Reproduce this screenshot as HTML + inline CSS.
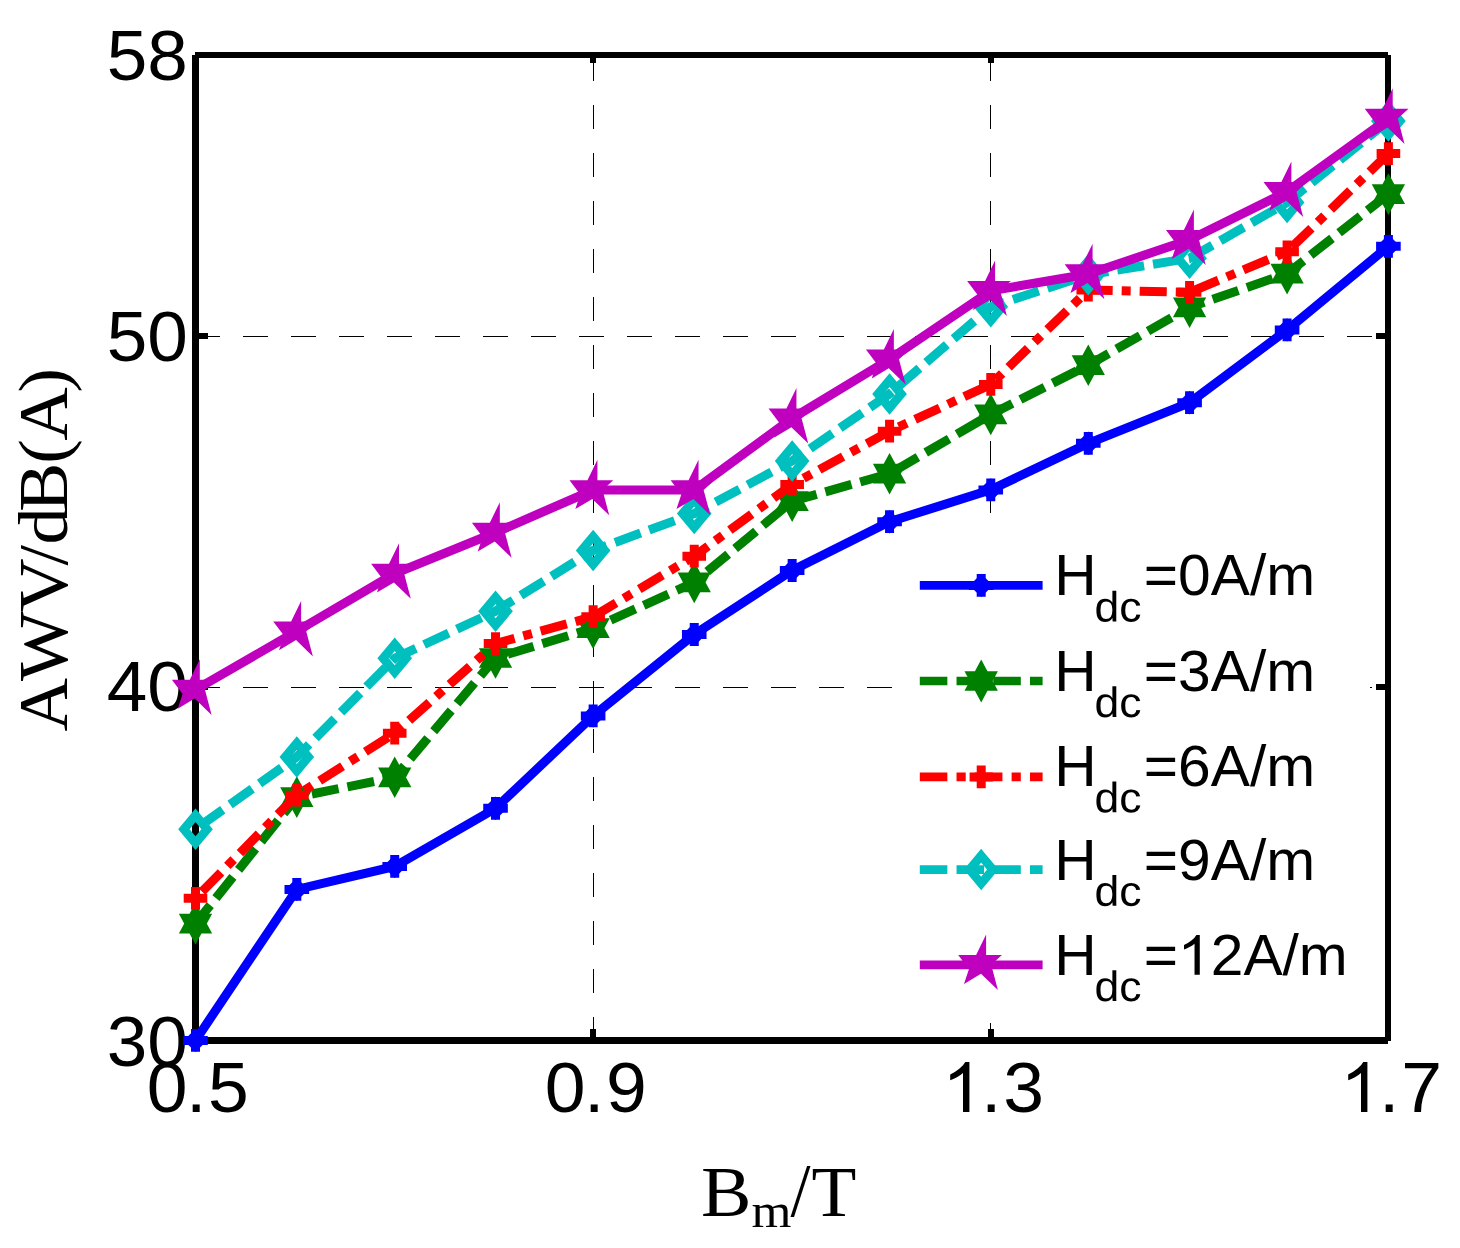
<!DOCTYPE html>
<html><head><meta charset="utf-8"><title>AWV vs Bm</title>
<style>html,body{margin:0;padding:0;background:#fff}svg{display:block;will-change:transform}text{fill:#000}</style>
</head><body>
<svg width="1460" height="1248" viewBox="0 0 1460 1248">
<rect width="1460" height="1248" fill="#fff"/>
<g stroke="#000" stroke-width="1" fill="none" shape-rendering="crispEdges" stroke-dasharray="24.5 23.5">
<path d="M195 336.5H1388.4" stroke-dasharray="25 23"/>
<path d="M195 687.5H1388.4" stroke-dasharray="25 23"/>
<path d="M593.5 56.5V1040.4"/>
<path d="M990.5 56.5V1040.4"/>
</g>
<rect x="908" y="527" width="462" height="496" fill="#fff"/>
<g fill="#000" shape-rendering="crispEdges">
<rect x="195" y="52" width="1193" height="6"/>
<rect x="195" y="1037" width="1193" height="7"/>
<rect x="192" y="55" width="7" height="986"/>
<rect x="1385" y="55" width="6" height="986"/>
<rect x="199" y="333" width="9" height="6"/>
<rect x="1376" y="333" width="9" height="6"/>
<rect x="199" y="684" width="9" height="6"/>
<rect x="1376" y="684" width="9" height="6"/>
<rect x="590" y="58" width="6" height="5"/>
<rect x="590" y="1029" width="6" height="8"/>
<rect x="987.5" y="58" width="6" height="5"/>
<rect x="987.5" y="1029" width="6" height="8"/>
</g>
<text transform="translate(187.8 80.3) scale(1.03 1)" font-family="Liberation Sans, sans-serif" font-size="70.8" text-anchor="end">58</text>
<text transform="translate(187.8 361.4) scale(1.03 1)" font-family="Liberation Sans, sans-serif" font-size="70.8" text-anchor="end">50</text>
<text transform="translate(187.8 711.3) scale(1.03 1)" font-family="Liberation Sans, sans-serif" font-size="70.8" text-anchor="end">40</text>
<text transform="translate(187.8 1066.1) scale(1.03 1)" font-family="Liberation Sans, sans-serif" font-size="70.8" text-anchor="end">30</text>
<text transform="translate(146.86 1112.3) scale(1.03 1)" font-family="Liberation Sans, sans-serif" font-size="71.2" text-anchor="start">0</text>
<text transform="translate(186.01 1112.3) scale(1.03 1)" font-family="Liberation Sans, sans-serif" font-size="71.2" text-anchor="start">.</text>
<text transform="translate(208.04 1112.3) scale(1.03 1)" font-family="Liberation Sans, sans-serif" font-size="71.2" text-anchor="start">5</text>
<text transform="translate(544.81 1112.3) scale(1.03 1)" font-family="Liberation Sans, sans-serif" font-size="71.2" text-anchor="start">0</text>
<text transform="translate(584.11 1112.3) scale(1.03 1)" font-family="Liberation Sans, sans-serif" font-size="71.2" text-anchor="start">.</text>
<text transform="translate(606.01 1112.3) scale(1.03 1)" font-family="Liberation Sans, sans-serif" font-size="71.2" text-anchor="start">9</text>
<text transform="translate(980.96 1112.3) scale(1.03 1)" font-family="Liberation Sans, sans-serif" font-size="71.2" text-anchor="start">.</text>
<text transform="translate(1003.23 1112.3) scale(1.03 1)" font-family="Liberation Sans, sans-serif" font-size="71.2" text-anchor="start">3</text>
<text transform="translate(1378.96 1112.3) scale(1.03 1)" font-family="Liberation Sans, sans-serif" font-size="71.2" text-anchor="start">.</text>
<text transform="translate(1401.18 1112.3) scale(1.03 1)" font-family="Liberation Sans, sans-serif" font-size="71.2" text-anchor="start">7</text>
<path transform="translate(942.27 1111.9) scale(0.03556 -0.03397)" d="M763 0L583 0L583 1147Q518 1085 412.5 1023Q307 961 223 930L223 1104Q374 1175 487 1276Q600 1377 647 1472L763 1472Z" fill="#000"/>
<path transform="translate(1340.27 1111.9) scale(0.03556 -0.03397)" d="M763 0L583 0L583 1147Q518 1085 412.5 1023Q307 961 223 930L223 1104Q374 1175 487 1276Q600 1377 647 1472L763 1472Z" fill="#000"/>
<polyline points="195.5,1040.4 296.81,889.4 394.72,866.4 495.53,808.3 593.13,715.9 694.24,634.5 792.15,570.5 889.56,521.7 990.77,489.9 1088.28,443.3 1189.58,402.7 1287.09,329.9 1388.4,246.3" fill="none" stroke="#0000ff" stroke-width="9.05" stroke-linejoin="miter"/>
<path d="M183.2 1040.4H207.8M195.5 1029V1051.8" stroke="#0000ff" stroke-width="9" fill="none"/><path d="M195.5 1028.7L207.2 1040.4L195.5 1052.1L183.8 1040.4Z" fill="#0000ff"/>
<path d="M284.51 889.4H309.11M296.81 878V900.8" stroke="#0000ff" stroke-width="9" fill="none"/><path d="M296.81 877.7L308.51 889.4L296.81 901.1L285.11 889.4Z" fill="#0000ff"/>
<path d="M382.42 866.4H407.02M394.72 855V877.8" stroke="#0000ff" stroke-width="9" fill="none"/><path d="M394.72 854.7L406.42 866.4L394.72 878.1L383.02 866.4Z" fill="#0000ff"/>
<path d="M483.23 808.3H507.83M495.53 796.9V819.7" stroke="#0000ff" stroke-width="9" fill="none"/><path d="M495.53 796.6L507.23 808.3L495.53 820L483.83 808.3Z" fill="#0000ff"/>
<path d="M580.83 715.9H605.43M593.13 704.5V727.3" stroke="#0000ff" stroke-width="9" fill="none"/><path d="M593.13 704.2L604.83 715.9L593.13 727.6L581.43 715.9Z" fill="#0000ff"/>
<path d="M681.94 634.5H706.54M694.24 623.1V645.9" stroke="#0000ff" stroke-width="9" fill="none"/><path d="M694.24 622.8L705.94 634.5L694.24 646.2L682.54 634.5Z" fill="#0000ff"/>
<path d="M779.85 570.5H804.45M792.15 559.1V581.9" stroke="#0000ff" stroke-width="9" fill="none"/><path d="M792.15 558.8L803.85 570.5L792.15 582.2L780.45 570.5Z" fill="#0000ff"/>
<path d="M877.26 521.7H901.86M889.56 510.3V533.1" stroke="#0000ff" stroke-width="9" fill="none"/><path d="M889.56 510L901.26 521.7L889.56 533.4L877.86 521.7Z" fill="#0000ff"/>
<path d="M978.47 489.9H1003.07M990.77 478.5V501.3" stroke="#0000ff" stroke-width="9" fill="none"/><path d="M990.77 478.2L1002.47 489.9L990.77 501.6L979.07 489.9Z" fill="#0000ff"/>
<path d="M1075.98 443.3H1100.58M1088.28 431.9V454.7" stroke="#0000ff" stroke-width="9" fill="none"/><path d="M1088.28 431.6L1099.98 443.3L1088.28 455L1076.58 443.3Z" fill="#0000ff"/>
<path d="M1177.28 402.7H1201.88M1189.58 391.3V414.1" stroke="#0000ff" stroke-width="9" fill="none"/><path d="M1189.58 391L1201.28 402.7L1189.58 414.4L1177.88 402.7Z" fill="#0000ff"/>
<path d="M1274.79 329.9H1299.39M1287.09 318.5V341.3" stroke="#0000ff" stroke-width="9" fill="none"/><path d="M1287.09 318.2L1298.79 329.9L1287.09 341.6L1275.39 329.9Z" fill="#0000ff"/>
<path d="M1376.1 246.3H1400.7M1388.4 234.9V257.7" stroke="#0000ff" stroke-width="9" fill="none"/><path d="M1388.4 234.6L1400.1 246.3L1388.4 258L1376.7 246.3Z" fill="#0000ff"/>
<polyline points="195.5,923.6 296.81,797.1 394.72,777.3 495.53,658 593.13,628.1 694.24,582.4 792.15,501.2 889.56,473.7 990.77,414.4 1088.28,365.2 1189.58,307.3 1287.09,273.6 1388.4,194.1" fill="none" stroke="#008000" stroke-width="9.05" stroke-linejoin="miter" stroke-dasharray="27.15 9.05" stroke-dashoffset="3.5"/>
<path d="M195.5 902.8L212.15 933.45L178.85 933.45ZM195.5 944.4L178.85 913.75L212.15 913.75Z" fill="#008000"/>
<path d="M296.81 776.3L313.46 806.95L280.16 806.95ZM296.81 817.9L280.16 787.25L313.46 787.25Z" fill="#008000"/>
<path d="M394.72 756.5L411.37 787.15L378.07 787.15ZM394.72 798.1L378.07 767.45L411.37 767.45Z" fill="#008000"/>
<path d="M495.53 637.2L512.18 667.85L478.88 667.85ZM495.53 678.8L478.88 648.15L512.18 648.15Z" fill="#008000"/>
<path d="M593.13 607.3L609.78 637.95L576.48 637.95ZM593.13 648.9L576.48 618.25L609.78 618.25Z" fill="#008000"/>
<path d="M694.24 561.6L710.89 592.25L677.59 592.25ZM694.24 603.2L677.59 572.55L710.89 572.55Z" fill="#008000"/>
<path d="M792.15 480.4L808.8 511.05L775.5 511.05ZM792.15 522L775.5 491.35L808.8 491.35Z" fill="#008000"/>
<path d="M889.56 452.9L906.21 483.55L872.91 483.55ZM889.56 494.5L872.91 463.85L906.21 463.85Z" fill="#008000"/>
<path d="M990.77 393.6L1007.42 424.25L974.12 424.25ZM990.77 435.2L974.12 404.55L1007.42 404.55Z" fill="#008000"/>
<path d="M1088.28 344.4L1104.93 375.05L1071.62 375.05ZM1088.28 386L1071.62 355.35L1104.93 355.35Z" fill="#008000"/>
<path d="M1189.58 286.5L1206.23 317.15L1172.93 317.15ZM1189.58 328.1L1172.93 297.45L1206.23 297.45Z" fill="#008000"/>
<path d="M1287.09 252.8L1303.74 283.45L1270.44 283.45ZM1287.09 294.4L1270.44 263.75L1303.74 263.75Z" fill="#008000"/>
<path d="M1388.4 173.3L1405.05 203.95L1371.75 203.95ZM1388.4 214.9L1371.75 184.25L1405.05 184.25Z" fill="#008000"/>
<polyline points="195.5,898.3 296.81,795.2 394.72,733.2 495.53,643.6 593.13,616.7 694.24,556.2 792.15,484.5 889.56,431.2 990.77,384.4 1088.28,290 1189.58,292.3 1287.09,251.8 1388.4,153.6" fill="none" stroke="#ff0000" stroke-width="9.05" stroke-linejoin="miter" stroke-dasharray="27.1 9.0 9.0 9.0" stroke-dashoffset="-9.3"/>
<path d="M183.7 898.3H207.3M195.5 886.9V909.7" stroke="#ff0000" stroke-width="9" fill="none"/>
<path d="M285.01 795.2H308.61M296.81 783.8V806.6" stroke="#ff0000" stroke-width="9" fill="none"/>
<path d="M382.92 733.2H406.52M394.72 721.8V744.6" stroke="#ff0000" stroke-width="9" fill="none"/>
<path d="M483.73 643.6H507.33M495.53 632.2V655" stroke="#ff0000" stroke-width="9" fill="none"/>
<path d="M581.33 616.7H604.93M593.13 605.3V628.1" stroke="#ff0000" stroke-width="9" fill="none"/>
<path d="M682.44 556.2H706.04M694.24 544.8V567.6" stroke="#ff0000" stroke-width="9" fill="none"/>
<path d="M780.35 484.5H803.95M792.15 473.1V495.9" stroke="#ff0000" stroke-width="9" fill="none"/>
<path d="M877.76 431.2H901.36M889.56 419.8V442.6" stroke="#ff0000" stroke-width="9" fill="none"/>
<path d="M978.97 384.4H1002.57M990.77 373V395.8" stroke="#ff0000" stroke-width="9" fill="none"/>
<path d="M1076.48 290H1100.08M1088.28 278.6V301.4" stroke="#ff0000" stroke-width="9" fill="none"/>
<path d="M1177.78 292.3H1201.38M1189.58 280.9V303.7" stroke="#ff0000" stroke-width="9" fill="none"/>
<path d="M1275.29 251.8H1298.89M1287.09 240.4V263.2" stroke="#ff0000" stroke-width="9" fill="none"/>
<path d="M1376.6 153.6H1400.2M1388.4 142.2V165" stroke="#ff0000" stroke-width="9" fill="none"/>
<polyline points="195.5,829.2 296.81,756.9 394.72,658.2 495.53,611.2 593.13,550.4 694.24,513.5 792.15,461 889.56,394 990.77,306.8 1088.28,274.7 1189.58,258.3 1287.09,202.5 1388.4,120.9" fill="none" stroke="#00bfbf" stroke-width="9.05" stroke-linejoin="miter" stroke-dasharray="27.15 9.05" stroke-dashoffset="-6.3"/>
<path d="M195.5 815.3L207.1 829.2L195.5 843.1L183.9 829.2Z" fill="none" stroke="#00bfbf" stroke-width="8.8" stroke-linejoin="miter" stroke-miterlimit="10"/>
<path d="M296.81 743L308.41 756.9L296.81 770.8L285.21 756.9Z" fill="none" stroke="#00bfbf" stroke-width="8.8" stroke-linejoin="miter" stroke-miterlimit="10"/>
<path d="M394.72 644.3L406.32 658.2L394.72 672.1L383.12 658.2Z" fill="none" stroke="#00bfbf" stroke-width="8.8" stroke-linejoin="miter" stroke-miterlimit="10"/>
<path d="M495.53 597.3L507.13 611.2L495.53 625.1L483.93 611.2Z" fill="none" stroke="#00bfbf" stroke-width="8.8" stroke-linejoin="miter" stroke-miterlimit="10"/>
<path d="M593.13 536.5L604.73 550.4L593.13 564.3L581.53 550.4Z" fill="none" stroke="#00bfbf" stroke-width="8.8" stroke-linejoin="miter" stroke-miterlimit="10"/>
<path d="M694.24 499.6L705.84 513.5L694.24 527.4L682.64 513.5Z" fill="none" stroke="#00bfbf" stroke-width="8.8" stroke-linejoin="miter" stroke-miterlimit="10"/>
<path d="M792.15 447.1L803.75 461L792.15 474.9L780.55 461Z" fill="none" stroke="#00bfbf" stroke-width="8.8" stroke-linejoin="miter" stroke-miterlimit="10"/>
<path d="M889.56 380.1L901.16 394L889.56 407.9L877.96 394Z" fill="none" stroke="#00bfbf" stroke-width="8.8" stroke-linejoin="miter" stroke-miterlimit="10"/>
<path d="M990.77 292.9L1002.37 306.8L990.77 320.7L979.17 306.8Z" fill="none" stroke="#00bfbf" stroke-width="8.8" stroke-linejoin="miter" stroke-miterlimit="10"/>
<path d="M1088.28 260.8L1099.88 274.7L1088.28 288.6L1076.68 274.7Z" fill="none" stroke="#00bfbf" stroke-width="8.8" stroke-linejoin="miter" stroke-miterlimit="10"/>
<path d="M1189.58 244.4L1201.18 258.3L1189.58 272.2L1177.98 258.3Z" fill="none" stroke="#00bfbf" stroke-width="8.8" stroke-linejoin="miter" stroke-miterlimit="10"/>
<path d="M1287.09 188.6L1298.69 202.5L1287.09 216.4L1275.49 202.5Z" fill="none" stroke="#00bfbf" stroke-width="8.8" stroke-linejoin="miter" stroke-miterlimit="10"/>
<path d="M1388.4 107L1400 120.9L1388.4 134.8L1376.8 120.9Z" fill="none" stroke="#00bfbf" stroke-width="8.8" stroke-linejoin="miter" stroke-miterlimit="10"/>
<polyline points="195.5,689.6 296.81,631.2 394.72,573.5 495.53,532.5 593.13,490 694.24,490 792.15,418.3 889.56,359.3 990.77,290.8 1088.28,274 1189.58,239.8 1287.09,191.7 1388.4,118.6" fill="none" stroke="#bf00bf" stroke-width="9.05" stroke-linejoin="miter"/>
<path d="M199.8 659.3L199.8 679.8L215.6 679.8L204.9 689.6L211.6 714.9L194.7 698.5L177.7 708.7L182.6 694L171.9 679.8L189.8 679.8Z" fill="#bf00bf"/>
<path d="M301.11 600.9L301.11 621.4L316.91 621.4L306.21 631.2L312.91 656.5L296.01 640.1L279.01 650.3L283.91 635.6L273.21 621.4L291.11 621.4Z" fill="#bf00bf"/>
<path d="M399.02 543.2L399.02 563.7L414.82 563.7L404.12 573.5L410.82 598.8L393.92 582.4L376.92 592.6L381.82 577.9L371.12 563.7L389.02 563.7Z" fill="#bf00bf"/>
<path d="M499.82 502.2L499.82 522.7L515.62 522.7L504.93 532.5L511.62 557.8L494.73 541.4L477.73 551.6L482.62 536.9L471.93 522.7L489.82 522.7Z" fill="#bf00bf"/>
<path d="M597.43 459.7L597.43 480.2L613.23 480.2L602.53 490L609.23 515.3L592.33 498.9L575.33 509.1L580.23 494.4L569.53 480.2L587.43 480.2Z" fill="#bf00bf"/>
<path d="M698.54 459.7L698.54 480.2L714.34 480.2L703.64 490L710.34 515.3L693.44 498.9L676.44 509.1L681.34 494.4L670.64 480.2L688.54 480.2Z" fill="#bf00bf"/>
<path d="M796.45 388L796.45 408.5L812.25 408.5L801.55 418.3L808.25 443.6L791.35 427.2L774.35 437.4L779.25 422.7L768.55 408.5L786.45 408.5Z" fill="#bf00bf"/>
<path d="M893.86 329L893.86 349.5L909.66 349.5L898.96 359.3L905.66 384.6L888.76 368.2L871.76 378.4L876.66 363.7L865.96 349.5L883.86 349.5Z" fill="#bf00bf"/>
<path d="M995.07 260.5L995.07 281L1010.87 281L1000.17 290.8L1006.87 316.1L989.97 299.7L972.97 309.9L977.87 295.2L967.17 281L985.07 281Z" fill="#bf00bf"/>
<path d="M1092.58 243.7L1092.58 264.2L1108.38 264.2L1097.68 274L1104.38 299.3L1087.48 282.9L1070.48 293.1L1075.38 278.4L1064.68 264.2L1082.58 264.2Z" fill="#bf00bf"/>
<path d="M1193.88 209.5L1193.88 230L1209.68 230L1198.98 239.8L1205.68 265.1L1188.78 248.7L1171.78 258.9L1176.68 244.2L1165.98 230L1183.88 230Z" fill="#bf00bf"/>
<path d="M1291.39 161.4L1291.39 181.9L1307.19 181.9L1296.49 191.7L1303.19 217L1286.29 200.6L1269.29 210.8L1274.19 196.1L1263.49 181.9L1281.39 181.9Z" fill="#bf00bf"/>
<path d="M1392.7 88.3L1392.7 108.8L1408.5 108.8L1397.8 118.6L1404.5 143.9L1387.6 127.5L1370.6 137.7L1375.5 123L1364.8 108.8L1382.7 108.8Z" fill="#bf00bf"/>
<path d="M919.8 585.4H1042.6" stroke="#0000ff" stroke-width="8.7" fill="none"/>
<path d="M968.9 585.4H993.5M981.2 574V596.8" stroke="#0000ff" stroke-width="9" fill="none"/><path d="M981.2 573.7L992.9 585.4L981.2 597.1L969.5 585.4Z" fill="#0000ff"/>
<path d="M919.8 681H1042.6" stroke="#008000" stroke-width="8.7" fill="none" stroke-dasharray="27.55 9.18"/>
<path d="M981.2 659.6L997.9 690.7L964.5 690.7ZM981.2 702.4L964.5 671.3L997.9 671.3Z" fill="#008000"/>
<path d="M919.8 776.9H1042.6" stroke="#ff0000" stroke-width="8.7" fill="none" stroke-dasharray="27.55 9.18 9.18 9.18"/>
<path d="M969.6 776.9H992.8M981.2 765.5V788.3" stroke="#ff0000" stroke-width="9" fill="none"/>
<path d="M919.8 869.6H1042.6" stroke="#00bfbf" stroke-width="8.7" fill="none" stroke-dasharray="27.55 9.18"/>
<path d="M981.2 855.7L992.8 869.6L981.2 883.5L969.6 869.6Z" fill="none" stroke="#00bfbf" stroke-width="8.8" stroke-linejoin="miter" stroke-miterlimit="10"/>
<path d="M919.8 964.8H1042.6" stroke="#bf00bf" stroke-width="8.7" fill="none"/>
<path d="M986.1 934.5L986.1 955L1001.9 955L991.2 964.8L997.9 990.1L981 973.7L964 983.9L968.9 969.2L958.2 955L976.1 955Z" fill="#bf00bf"/>
<text transform="translate(1054.3 595.4) scale(1.03 1)" font-family="Liberation Sans, sans-serif" font-size="57" text-anchor="start">H</text>
<text transform="translate(1094.5 621.5) rotate(0.03) scale(1.05 1)" font-family="Liberation Sans, sans-serif" font-size="42.4">dc</text>
<text transform="translate(1143.8 595.4) scale(1.03 1)" font-family="Liberation Sans, sans-serif" font-size="57" text-anchor="start">=0A/m</text>
<text transform="translate(1054.3 691) scale(1.03 1)" font-family="Liberation Sans, sans-serif" font-size="57" text-anchor="start">H</text>
<text transform="translate(1094.5 717.1) rotate(0.03) scale(1.05 1)" font-family="Liberation Sans, sans-serif" font-size="42.4">dc</text>
<text transform="translate(1143.8 691) scale(1.03 1)" font-family="Liberation Sans, sans-serif" font-size="57" text-anchor="start">=3A/m</text>
<text transform="translate(1054.3 786.2) scale(1.03 1)" font-family="Liberation Sans, sans-serif" font-size="57" text-anchor="start">H</text>
<text transform="translate(1094.5 812.3) rotate(0.03) scale(1.05 1)" font-family="Liberation Sans, sans-serif" font-size="42.4">dc</text>
<text transform="translate(1143.8 786.2) scale(1.03 1)" font-family="Liberation Sans, sans-serif" font-size="57" text-anchor="start">=6A/m</text>
<text transform="translate(1054.3 879.6) scale(1.03 1)" font-family="Liberation Sans, sans-serif" font-size="57" text-anchor="start">H</text>
<text transform="translate(1094.5 905.7) rotate(0.03) scale(1.05 1)" font-family="Liberation Sans, sans-serif" font-size="42.4">dc</text>
<text transform="translate(1143.8 879.6) scale(1.03 1)" font-family="Liberation Sans, sans-serif" font-size="57" text-anchor="start">=9A/m</text>
<text transform="translate(1054.3 974.8) scale(1.03 1)" font-family="Liberation Sans, sans-serif" font-size="57" text-anchor="start">H</text>
<text transform="translate(1094.5 1000.9) rotate(0.03) scale(1.05 1)" font-family="Liberation Sans, sans-serif" font-size="42.4">dc</text>
<text transform="translate(1143.8 974.8) scale(1.03 1)" font-family="Liberation Sans, sans-serif" font-size="57" text-anchor="start">=</text>
<path transform="translate(1177.5 974.8) scale(0.02920 -0.02710)" d="M763 0L583 0L583 1147Q518 1085 412.5 1023Q307 961 223 930L223 1104Q374 1175 487 1276Q600 1377 647 1472L763 1472Z" fill="#000"/>
<text transform="translate(1210.73 974.8) scale(1.03 1)" font-family="Liberation Sans, sans-serif" font-size="57" text-anchor="start">2A/m</text>
<text transform="translate(701 1215.8) scale(1.05 1)" font-family="Liberation Serif, serif" font-size="72" text-anchor="start">B</text>
<text transform="translate(751.6 1226.7) scale(1.07 1)" font-family="Liberation Serif, serif" font-size="48" text-anchor="start">m</text>
<text transform="translate(790.6 1216.2) scale(1 1.05)" font-family="Liberation Serif, serif" font-size="72">/</text>
<text transform="translate(811.6 1215.8) scale(1.02 1)" font-family="Liberation Serif, serif" font-size="72" text-anchor="start">T</text>
<text transform="translate(66.5 731.44) rotate(-90) scale(1.05 1)" font-family="Liberation Serif, serif" font-size="70.5">A</text>
<text transform="translate(66.5 681.07) rotate(-90) scale(1.05 1)" font-family="Liberation Serif, serif" font-size="70.5">W</text>
<text transform="translate(66.5 612.11) rotate(-90) scale(1.05 1)" font-family="Liberation Serif, serif" font-size="70.5">V</text>
<text transform="translate(66.5 565.6) rotate(-90) scale(1.05 1)" font-family="Liberation Serif, serif" font-size="70.5">/</text>
<text transform="translate(66.5 544.56) rotate(-90) scale(1.05 1)" font-family="Liberation Serif, serif" font-size="70.5">d</text>
<text transform="translate(66.5 511.95) rotate(-90) scale(1.05 1)" font-family="Liberation Serif, serif" font-size="70.5">B</text>
<text transform="translate(66.5 463.86) rotate(-90) scale(1.05 1)" font-family="Liberation Serif, serif" font-size="70.5">(</text>
<text transform="translate(66.5 440.84) rotate(-90) scale(1.05 1)" font-family="Liberation Serif, serif" font-size="70.5">A</text>
<text transform="translate(66.5 392.77) rotate(-90) scale(1.05 1)" font-family="Liberation Serif, serif" font-size="70.5">)</text>
</svg>
</body></html>
